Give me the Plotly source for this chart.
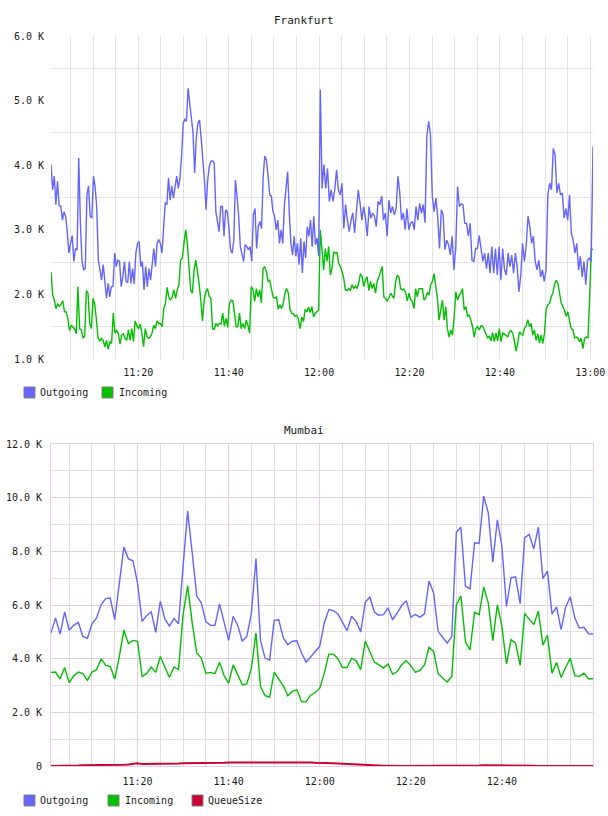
import numpy as np
import pandas as pd
import plotly.graph_objects as go

# ---------------- data (values in thousands) ----------------
# Frankfurt, first hour (up to and including the 12:00 spike) and second hour
fra_out_1 = [4.01,3.62,3.83,3.39,3.75,3.37,3.37,3.15,3.28,3.21,
 2.95,2.64,2.79,2.91,2.51,2.71,2.69,4.11,3.10,2.51,
 2.38,2.40,3.54,3.68,3.21,3.18,3.83,3.67,3.36,2.53,
 2.38,2.22,2.46,2.22,1.94,2.17,1.96,2.12,2.12,2.64,
 2.43,2.53,2.51,2.12,2.27,2.51,2.20,2.18,2.51,2.17,
 2.40,2.16,2.64,2.79,2.82,2.43,2.51,2.07,2.43,2.12,
 2.40,2.22,2.53,2.71,2.43,2.79,2.85,2.79,2.64,3.10,
 3.42,3.39,3.80,3.46,3.68,3.49,3.64,3.83,3.64,3.80,
 4.14,4.65,4.71,4.68,5.19,4.94,4.68,4.50,3.88,4.42,
 4.65,4.70,4.42,4.11,3.77,3.31,3.77,3.98,4.06,4.07,
 4.03,3.28,3.15,2.97,3.36,3.36,2.90,3.31,3.28,3.05,
 2.69,2.64,2.84,3.77,3.52,3.21,2.74,2.61,2.51,2.77,
 2.74,2.69,2.74,2.51,3.23,3.33,2.71,3.05,3.13,3.02,
 3.83,4.14,4.08,3.83,3.54,3.52,3.28,3.21,3.00,3.15,
 2.79,3.00,2.79,3.39,3.64,3.90,3.26,2.79,2.61,2.90,
 2.59,2.79,2.46,2.87,2.33,2.82,2.56,3.05,2.90,3.15,
 2.74,3.21,2.77,2.87,2.59,5.17]
fra_out_2 = [3.64,4.01,3.64,3.95,3.44,3.62,3.44,3.62,3.93,3.62,
 3.54,3.72,3.02,3.39,3.15,2.97,3.15,3.26,2.95,3.28,
 3.62,3.41,3.15,3.36,3.18,2.90,3.36,3.18,3.26,3.21,
 3.05,3.44,3.39,3.52,3.15,3.26,2.90,3.46,3.26,3.36,
 3.23,3.33,3.83,3.57,3.15,3.26,3.00,3.33,3.00,3.10,
 3.13,3.00,3.36,3.15,3.41,3.26,3.39,3.11,4.45,4.68,
 4.47,3.52,3.28,3.49,3.21,2.71,3.31,3.23,2.69,2.84,
 2.77,2.61,2.90,2.38,2.71,3.67,3.36,3.40,3.39,3.10,
 3.10,2.90,3.10,2.53,2.51,2.71,2.71,2.91,2.74,2.51,
 2.64,2.40,2.64,2.33,2.74,2.33,2.71,2.30,2.74,2.22,
 2.71,2.38,2.30,2.64,2.43,2.61,2.33,2.64,2.43,2.04,
 2.30,2.79,2.51,2.74,3.21,3.05,2.79,2.90,2.51,2.38,
 2.53,2.27,2.38,2.20,2.38,3.54,3.72,3.62,4.26,4.16,
 3.57,3.72,3.54,3.57,3.18,3.33,3.15,3.54,2.95,2.84,
 2.64,2.79,2.38,2.59,2.27,2.51,2.15,2.53,2.56,2.51,
 4.29]
fra_in_1 = [2.35,1.99,1.91,1.78,1.85,1.82,1.85,1.90,1.73,1.73,
 1.63,1.44,1.52,1.50,1.47,1.39,2.12,1.47,1.45,1.33,
 1.35,2.06,2.02,1.55,1.47,1.94,1.84,1.60,1.32,1.28,
 1.32,1.29,1.19,1.29,1.15,1.27,1.24,1.71,1.40,1.44,
 1.40,1.23,1.37,1.39,1.32,1.29,1.45,1.29,1.47,1.27,
 1.59,1.52,1.47,1.54,1.40,1.19,1.47,1.35,1.32,1.34,
 1.40,1.52,1.47,1.59,1.55,1.55,1.50,1.78,1.86,2.11,
 1.96,1.91,1.96,2.07,1.94,2.07,2.15,2.53,2.56,2.79,
 3.00,2.79,2.43,2.06,2.02,2.38,2.53,2.38,2.17,1.91,
 1.59,1.91,2.04,2.09,1.97,1.94,1.47,1.46,1.55,1.51,
 1.55,1.54,1.71,1.51,1.63,1.49,1.86,1.91,1.90,1.71,
 1.50,1.50,1.71,1.47,1.55,1.47,1.60,1.52,1.40,2.12,
 2.08,1.89,2.09,1.96,2.07,1.87,2.40,2.43,2.35,2.20,
 2.22,2.08,1.96,1.94,1.96,1.77,1.84,1.78,1.86,2.02,
 2.09,2.02,1.76,1.71,1.70,1.66,1.68,1.61,1.47,1.65,
 1.58,1.77,1.73,1.80,1.72,1.81,1.65,1.71,1.73,1.76,
 3.00]
fra_in_2 = [2.69,2.38,2.71,2.51,2.74,2.30,2.40,2.66,2.64,2.65,
 2.48,2.43,2.35,2.25,2.07,2.06,2.09,2.06,2.15,2.09,
 2.13,2.09,2.18,2.32,2.27,2.12,2.23,2.27,2.06,2.20,
 2.09,2.17,2.02,2.20,2.27,2.34,2.43,1.96,1.94,1.90,
 1.94,2.02,1.97,1.94,2.20,2.29,2.27,2.09,2.07,2.08,
 2.03,1.90,2.02,1.92,1.89,1.78,2.09,1.96,2.09,2.09,
 2.09,1.91,1.95,2.03,1.99,2.15,2.20,2.32,2.12,1.94,
 1.60,1.73,1.91,1.60,1.81,1.47,1.34,1.45,1.37,1.63,
 2.04,1.91,1.99,2.02,2.09,1.76,1.81,1.66,1.68,1.60,
 1.50,1.34,1.47,1.50,1.45,1.51,1.51,1.45,1.40,1.33,
 1.35,1.28,1.41,1.27,1.40,1.28,1.47,1.27,1.40,1.39,
 1.37,1.34,1.42,1.44,1.40,1.28,1.12,1.24,1.42,1.39,
 1.37,1.47,1.51,1.61,1.50,1.55,1.37,1.45,1.29,1.39,
 1.25,1.37,1.24,1.40,1.77,1.84,1.86,1.96,2.02,2.16,
 2.22,2.17,2.02,1.87,1.81,1.75,1.66,1.73,1.59,1.47,
 1.45,1.33,1.34,1.32,1.27,1.32,1.16,1.32,1.34,1.33,
 1.96,2.69,2.70]

# Mumbai, one value per minute from 11:01 to 13:00
mum_out = [4.96,5.52,4.92,5.74,5.06,5.24,5.35,4.83,4.76,5.30,
 5.52,6.01,6.24,6.26,5.45,6.82,8.16,7.72,7.65,6.82,
 5.39,5.60,5.75,4.98,6.14,5.48,5.21,5.50,5.30,7.45,
 9.50,7.95,6.33,6.08,5.38,5.24,5.24,6.04,5.33,4.68,
 5.58,5.24,4.65,4.83,5.70,7.73,4.67,4.02,3.94,5.43,
 5.45,4.77,4.52,4.65,4.67,4.21,3.87,4.08,4.27,
 4.46,5.33,5.83,5.79,5.67,5.35,5.04,5.58,5.39,4.99,
 6.11,6.29,5.74,5.62,5.64,5.89,5.45,5.70,5.98,6.16,
 5.55,5.64,5.55,5.67,6.89,6.45,5.02,4.79,4.58,4.83,
 8.72,8.90,6.70,6.60,8.32,8.29,10.06,9.44,7.60,9.17,
 8.19,5.95,7.01,7.05,6.05,8.51,8.63,8.09,8.90,6.99,
 7.26,5.67,5.93,5.08,5.93,6.30,5.52,5.14,5.17,4.93,
 4.92]
mum_in = [3.49,3.50,3.24,3.67,3.11,3.36,3.50,3.44,3.19,3.50,
 3.59,3.99,3.75,3.71,3.24,4.08,5.06,4.56,4.68,4.65,
 3.34,3.44,3.69,3.49,4.08,3.69,3.30,3.69,3.59,5.64,
 6.72,5.33,4.21,4.02,3.46,3.49,3.44,3.87,3.37,3.09,
 3.77,3.40,3.03,3.06,3.65,4.96,2.96,2.62,2.57,3.50,
 3.24,2.99,2.62,2.78,2.84,2.39,2.39,2.64,2.74,
 2.90,3.46,4.17,4.17,4.00,3.67,3.67,4.02,3.92,3.59,
 4.65,4.27,3.87,3.77,3.65,3.80,3.42,3.52,3.77,3.92,
 3.74,3.49,3.56,3.77,4.42,4.27,3.44,3.28,3.13,3.34,
 6.01,6.33,4.62,4.33,5.73,5.64,6.67,6.08,4.67,6.01,
 5.21,3.80,4.71,4.58,3.75,5.68,5.48,5.27,5.77,4.50,
 4.87,3.46,3.86,3.30,3.67,4.02,3.37,3.34,3.46,3.25,
 3.25]
mum_queue = [0.00,0.00,0.00,0.01,0.01,0.02,0.02,0.03,0.03,0.04,
 0.04,0.05,0.05,0.05,0.05,0.05,0.05,0.06,0.08,0.10,
 0.07,0.07,0.07,0.07,0.08,0.08,0.08,0.09,0.09,0.10,
 0.10,0.10,0.11,0.11,0.11,0.12,0.12,0.12,0.12,0.13,
 0.13,0.13,0.14,0.14,0.14,0.15,0.15,0.15,0.15,0.15,
 0.15,0.15,0.15,0.14,0.14,0.14,0.13,0.13,0.12,0.12,
 0.11,0.10,0.10,0.09,0.08,0.07,0.06,0.05,0.04,0.03,
 0.02,0.02,0.01,0.01,0.01,0.00,0.00,0.00,0.00,0.00,
 0.00,0.00,0.00,0.00,0.00,0.00,0.00,0.00,0.00,0.01,
 0.01,0.01,0.02,0.02,0.02,0.03,0.03,0.03,0.03,0.03,
 0.03,0.02,0.02,0.02,0.01,0.01,0.01,0.00,0.00,0.00,
 0.00,0.00,0.00,0.00,0.00,0.00,0.00,0.00,0.00,0.00]

fra_times = ["2024-01-01 11:00:41", "2024-01-01 12:00:16", "2024-01-01 13:00:36"]
mum_start = "2024-01-01 11:01:00"

fra_xticks = ["2024-01-01 11:20", "2024-01-01 11:40", "2024-01-01 12:00",
              "2024-01-01 12:20", "2024-01-01 12:40", "2024-01-01 13:00"]
fra_xlabels = ["11:20", "11:40", "12:00", "12:20", "12:40", "13:00"]
mum_xticks = fra_xticks[:5]
mum_xlabels = fra_xlabels[:5]
fra_yticks = [1, 2, 3, 4, 5, 6]
fra_ylabels = ["1.0 K", "2.0 K", "3.0 K", "4.0 K", "5.0 K", "6.0 K"]
mum_yticks = [0, 2, 4, 6, 8, 10, 12]
mum_ylabels = ["0", "2.0 K", "4.0 K", "6.0 K", "8.0 K", "10.0 K", "12.0 K"]

# ---------------- styling ----------------
W, H = 608, 816
BLUE, GREEN, RED = "#6464ff", "#00c000", "#cc0033"
FONT = "DejaVu Sans Mono"
TXT = "#1a1a1a"
GRAY = "#e4e4e4"
PURP = "#e6cde6"


def px(x):
    return x / W


def py(y):
    return 1 - y / H


t0, tm, t1 = [pd.Timestamp(t) for t in fra_times]


def span(a, b, n, include_start=True):
    t = pd.date_range(a, b, periods=n + (0 if include_start else 1))
    return t if include_start else t[1:]


fra_out_x = span(t0, tm, len(fra_out_1)).append(span(tm, t1, len(fra_out_2), False))
fra_in_x = span(t0, tm, len(fra_in_1)).append(span(tm, t1, len(fra_in_2), False))
mum_x = pd.date_range(mum_start, periods=len(mum_out), freq="1min")

fig = go.Figure()
fig.add_trace(go.Scatter(x=fra_in_x, y=fra_in_1 + fra_in_2, mode="lines",
                         line=dict(color=GREEN, width=1.4), xaxis="x", yaxis="y", showlegend=False))
fig.add_trace(go.Scatter(x=fra_out_x, y=fra_out_1 + fra_out_2, mode="lines",
                         line=dict(color=BLUE, width=1.4), xaxis="x", yaxis="y", showlegend=False))
fig.add_trace(go.Scatter(x=mum_x, y=mum_out, mode="lines",
                         line=dict(color=BLUE, width=1.4), xaxis="x2", yaxis="y2", showlegend=False))
fig.add_trace(go.Scatter(x=mum_x, y=mum_in, mode="lines",
                         line=dict(color=GREEN, width=1.4), xaxis="x2", yaxis="y2", showlegend=False))
fig.add_trace(go.Scatter(x=mum_x, y=mum_queue, mode="lines",
                         line=dict(color=RED, width=2), xaxis="x2", yaxis="y2", showlegend=False))

tickfont = dict(family=FONT, size=10, color=TXT)
minor_x = dict(tickmode="linear", tick0="2024-01-01 11:00:00", dtick=5 * 60 * 1000,
               showgrid=True, gridwidth=1)

fig.update_layout(
    width=W, height=H, autosize=False,
    margin=dict(l=0, r=0, t=0, b=0, autoexpand=False),
    paper_bgcolor="white", plot_bgcolor="white",
    showlegend=False,
    xaxis=dict(domain=[px(51), px(593)], anchor="y", type="date", automargin=False,
               range=[t0, t1], tickmode="array", tickvals=fra_xticks, ticktext=fra_xlabels,
               showgrid=True, gridcolor=GRAY, gridwidth=1, zeroline=False,
               ticks="", tickfont=tickfont, ticklabelstandoff=6,
               minor=dict(minor_x, gridcolor=GRAY), showline=False),
    yaxis=dict(domain=[py(359), py(36)], anchor="x", range=[1, 6], automargin=False,
               tickmode="array", tickvals=fra_yticks, ticktext=fra_ylabels,
               showgrid=False, zeroline=False, ticks="", tickfont=tickfont,
               ticklabelstandoff=6,
               minor=dict(tickmode="array", tickvals=[v + 0.5 for v in fra_yticks[:-1]],
                          showgrid=True, gridcolor=GRAY, gridwidth=1)),
    xaxis2=dict(domain=[px(51), px(593)], anchor="y2", type="date", automargin=False,
                range=[mum_x[0], mum_x[-1]], tickmode="array", tickvals=mum_xticks,
                ticktext=mum_xlabels, showgrid=True, gridcolor=PURP, gridwidth=1,
                zeroline=False, ticks="", tickfont=tickfont, ticklabelstandoff=6,
                minor=dict(minor_x, gridcolor="#e0e0e0"),
                showline=True, mirror=True, linecolor=PURP, linewidth=1, layer="below traces"),
    yaxis2=dict(domain=[py(766), py(444)], anchor="x2", range=[0, 12], automargin=False,
                tickmode="array", tickvals=mum_yticks, ticktext=mum_ylabels,
                showgrid=True, gridcolor=PURP, gridwidth=1, zeroline=False,
                ticks="", tickfont=tickfont, ticklabelstandoff=6,
                showline=True, mirror=True, linecolor=PURP, linewidth=1, layer="below traces",
                minor=dict(tickmode="linear", tick0=0, dtick=1,
                           showgrid=True, gridcolor="#e0e0e0", gridwidth=1)),
)

annotations = [
    dict(text="Frankfurt", x=0.5, y=py(20), xref="paper", yref="paper",
         xanchor="center", yanchor="middle", showarrow=False,
         font=dict(family=FONT, size=11, color=TXT)),
    dict(text="Mumbai", x=0.5, y=py(430), xref="paper", yref="paper",
         xanchor="center", yanchor="middle", showarrow=False,
         font=dict(family=FONT, size=11, color=TXT)),
]
shapes = []


def legend_item(sx, tx, yc, color, label):
    shapes.append(dict(type="rect", xref="paper", yref="paper",
                       x0=px(sx), x1=px(sx + 11), y0=py(yc + 5.5), y1=py(yc - 5.5),
                       fillcolor=color, line=dict(color="#808080", width=1)))
    annotations.append(dict(text=label, x=px(tx), y=py(yc), xref="paper", yref="paper",
                            xanchor="left", yanchor="middle", showarrow=False,
                            font=dict(family=FONT, size=10, color=TXT)))


legend_item(24, 38, 392.5, BLUE, "Outgoing")
legend_item(102, 117, 392.5, GREEN, "Incoming")
legend_item(24, 38, 800.5, BLUE, "Outgoing")
legend_item(108, 123, 800.5, GREEN, "Incoming")
legend_item(192, 206, 800.5, RED, "QueueSize")

fig.update_layout(annotations=annotations, shapes=shapes)
fig.write_html("out.html", config={"responsive": False})
